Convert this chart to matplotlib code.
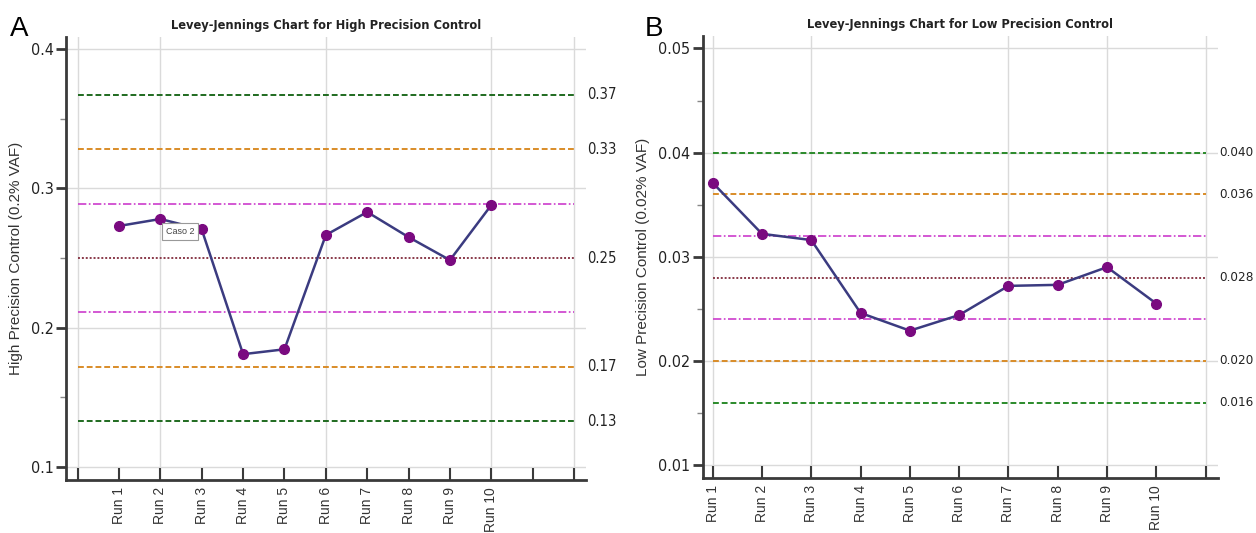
import matplotlib.pyplot as plt
import numpy as np
from matplotlib import font_manager

# run labels and measured control values
runs = ["Run 1", "Run 2", "Run 3", "Run 4", "Run 5",
        "Run 6", "Run 7", "Run 8", "Run 9", "Run 10"]
high_values = [0.273, 0.278, 0.2705, 0.181, 0.1845,
               0.2665, 0.283, 0.265, 0.2485, 0.288]
low_values = [0.0371, 0.0322, 0.0316, 0.0246, 0.0229,
              0.0244, 0.0272, 0.0273, 0.0290, 0.0255]

# control limits (mean, SD)
high_mean, high_sd = 0.25, 0.039
low_mean, low_sd = 0.028, 0.004
high_labels = ["0.37", "0.33", "0.25", "0.17", "0.13"]
low_labels = ["0.040", "0.036", "0.028", "0.020", "0.016"]

# pick a condensed face for the numbers and titles if one is around
fonts = font_manager.fontManager.ttflist
names = {f.name for f in fonts}
if "Liberation Sans Narrow" in names:
    NARROW = dict(family="Liberation Sans Narrow")
    shrink = 1.0
elif any(f.name == "DejaVu Sans" and str(f.stretch) in ("condensed", "semi-condensed")
         for f in fonts):
    NARROW = dict(family="DejaVu Sans", stretch="condensed")
    shrink = 0.92
else:
    NARROW = dict(family="Liberation Sans")
    shrink = 0.85

fig = plt.figure(figsize=(12.56, 5.33), dpi=100)
fig.patch.set_facecolor("white")

SPINE = "#3a3a3a"
LINE = "#3b3b80"
MARK = "#7a0a80"


def draw_panel(ax, values, mean, sd, labels, lab_size, x0, x_end, xlim, ylim,
               major, minor, grid_x, green, title, ylabel, fmt):
    x = np.arange(1, len(values) + 1)
    ax.set_xlim(*xlim)
    ax.set_ylim(*ylim)

    # faint grid
    for g in major:
        ax.plot([xlim[0], xlim[1]], [g, g], color="#dadada", lw=1.0, zorder=0)
    for g in grid_x:
        ax.axvline(g, color="#dadada", lw=1.0, zorder=0)

    # control limit lines
    limits = [
        (mean + 3 * sd, green, (0, (3, 1.5)), 1.4),
        (mean + 2 * sd, "#d98c28", (0, (3, 1.5)), 1.4),
        (mean + sd, "#cc3ccc", (0, (5, 1.5, 1, 1.5)), 1.2),
        (mean, "#8a3a4a", (0, (1, 1)), 1.4),
        (mean - sd, "#cc3ccc", (0, (5, 1.5, 1, 1.5)), 1.2),
        (mean - 2 * sd, "#d98c28", (0, (3, 1.5)), 1.4),
        (mean - 3 * sd, green, (0, (3, 1.5)), 1.4),
    ]
    for val, col, ls, lw in limits:
        ax.plot([x0, x_end], [val, val], color=col, ls=ls, lw=lw, zorder=1)

    lab_vals = [mean + 3 * sd, mean + 2 * sd, mean, mean - 2 * sd, mean - 3 * sd]
    for val, lab in zip(lab_vals, labels):
        ax.annotate(lab, xy=(1.0, val), xycoords=("axes fraction", "data"),
                    xytext=(1, 0), textcoords="offset points",
                    ha="left", va="center", fontsize=lab_size * shrink,
                    color="#222222", annotation_clip=False, **NARROW)

    ax.plot(x, values, color=LINE, lw=1.8, zorder=3)
    ax.plot(x, values, "o", color=MARK, ms=7, zorder=4)

    for s in ["top", "right"]:
        ax.spines[s].set_visible(False)
    for s in ["left", "bottom"]:
        ax.spines[s].set_color(SPINE)
        ax.spines[s].set_linewidth(2.0)

    ax.set_yticks(major)
    ax.set_yticklabels([fmt(v) for v in major], fontsize=12.5 * shrink,
                       color="#222222", **NARROW)
    ax.set_yticks(minor, minor=True)
    ax.tick_params(axis="y", which="major", direction="out", length=7,
                   width=2, color=SPINE, pad=2)
    ax.tick_params(axis="y", which="minor", direction="out", length=4,
                   width=1, color="#888888")

    ticks = np.arange(np.ceil(xlim[0]), np.floor(xlim[1]) + 1)
    ax.set_xticks(ticks)
    ax.set_xticklabels([runs[int(t) - 1] if 1 <= t <= len(runs) else ""
                        for t in ticks], rotation=90, fontsize=10,
                       family="Liberation Sans", color="#333333")
    ax.tick_params(axis="x", direction="in", length=9, width=1.5,
                   color=SPINE, pad=5)

    ax.set_title(title, fontsize=10 * shrink, fontweight="bold",
                 color="#222222", pad=6, **NARROW)
    ax.set_ylabel(ylabel, fontsize=11, family="Liberation Sans",
                  color="#333333", labelpad=6)


ax1 = fig.add_axes([0.0529, 0.0994, 0.4137, 0.8312])
draw_panel(ax1, high_values, high_mean, high_sd, high_labels, 11.5,
           0, 12, (-0.27, 12.29), (0.0907, 0.4086),
           [0.1, 0.2, 0.3, 0.4], [0.15, 0.25, 0.35], [0, 2, 6, 10, 12],
           "#1f6a1f", "Levey-Jennings Chart for High Precision Control",
           "High Precision Control (0.2% VAF)", lambda v: f"{v:.1f}")

# note next to the second run
ax1.annotate("Caso 2", xy=(2, high_values[1]), xytext=(4, -9),
             textcoords="offset points", fontsize=6.5, ha="left", va="center",
             family="Liberation Sans", color="#444444", zorder=5,
             bbox=dict(boxstyle="square,pad=0.45", fc="white", ec="#999999", lw=0.8))

ax2 = fig.add_axes([0.5597, 0.1032, 0.41, 0.8293])
draw_panel(ax2, low_values, low_mean, low_sd, low_labels, 10.5,
           1, 11, (0.803, 11.25), (0.00875, 0.0512),
           [0.01, 0.02, 0.03, 0.04, 0.05], [0.015, 0.025, 0.035, 0.045],
           [1, 3, 7, 9, 11],
           "#2a8a2a", "Levey-Jennings Chart for Low Precision Control",
           "Low Precision Control (0.02% VAF)", lambda v: f"{v:.2f}")

fig.text(0.008, 0.945, "A", fontsize=20, family="Liberation Sans", va="center")
fig.text(0.513, 0.945, "B", fontsize=20, family="Liberation Sans", va="center")

fig.savefig("out.png", dpi=100, facecolor="white")
